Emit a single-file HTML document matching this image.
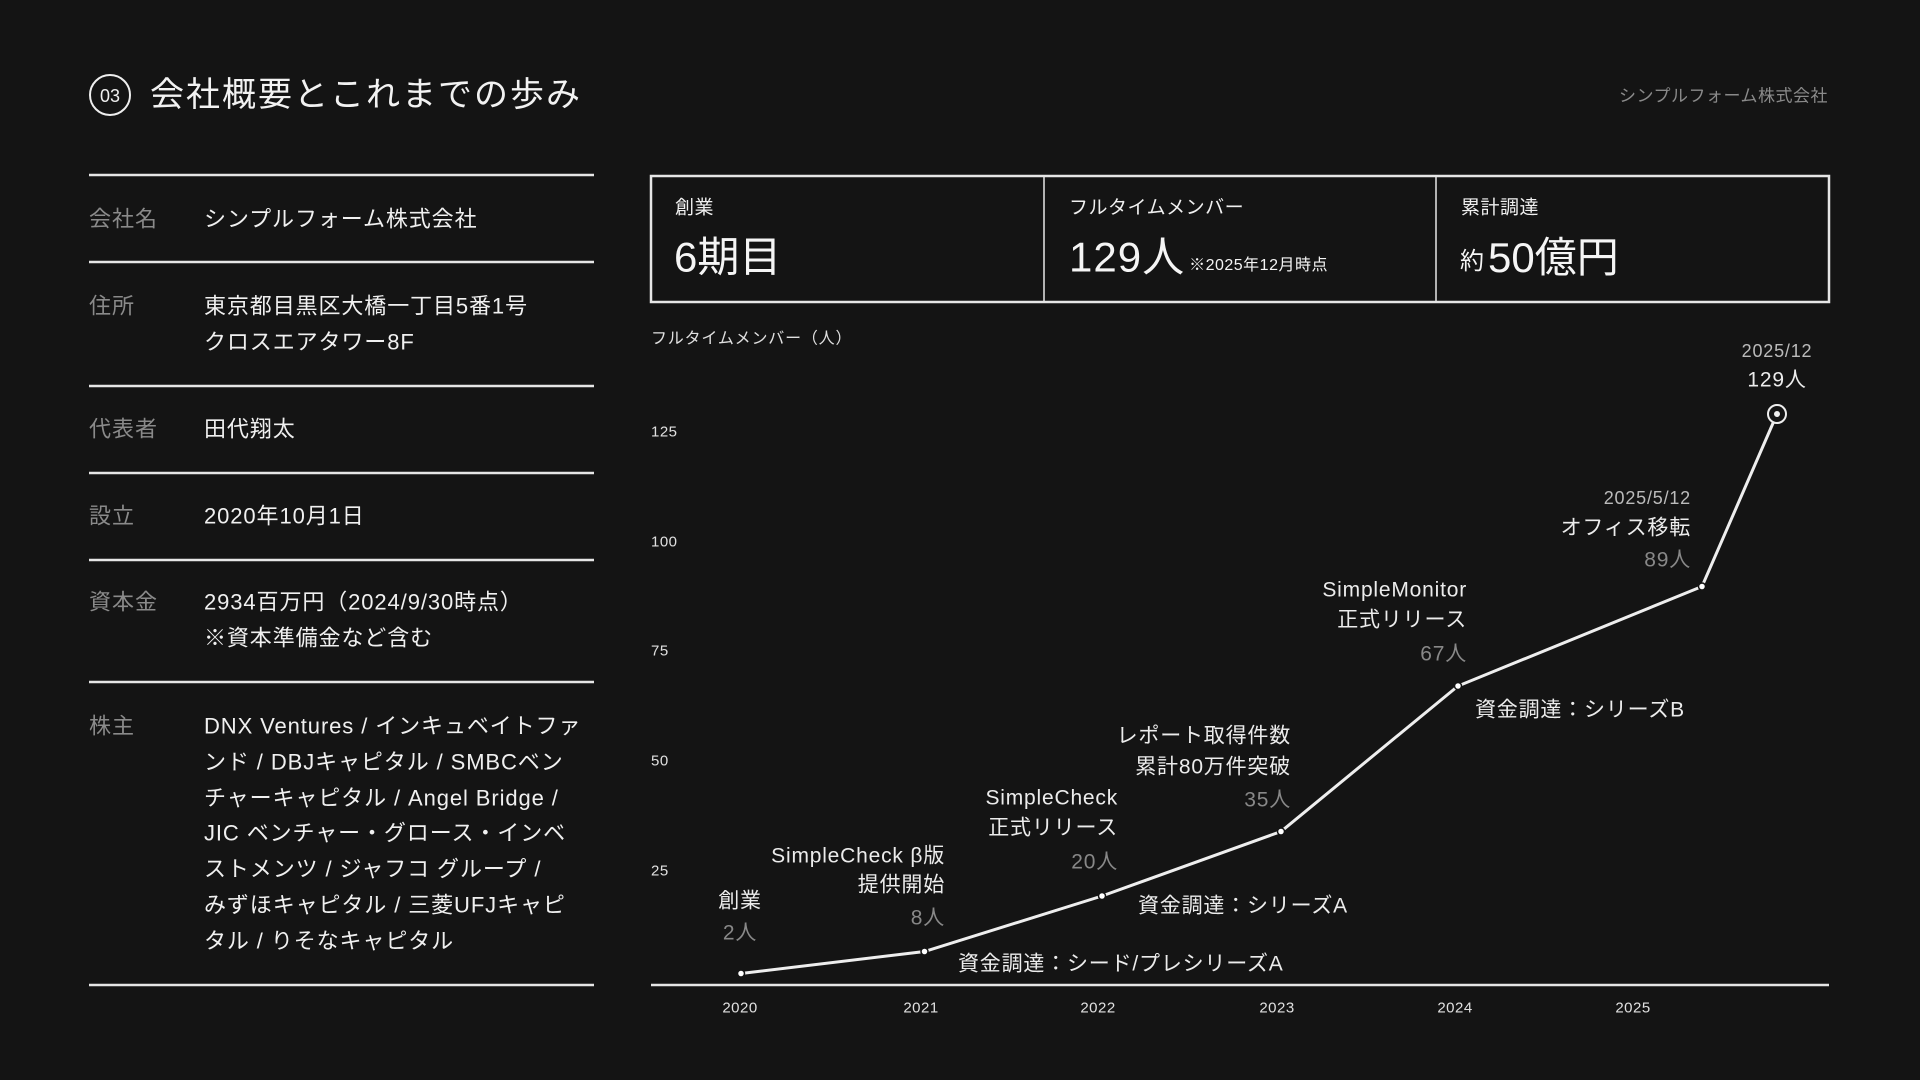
<!DOCTYPE html>
<html><head><meta charset="utf-8"><style>
html,body{margin:0;padding:0;background:#141414;}
body{width:1920px;height:1080px;overflow:hidden;}
svg{display:block;font-family:"Liberation Sans","Noto Sans CJK JP",sans-serif;}
</style></head><body>
<svg width="1920" height="1080" viewBox="0 0 1920 1080" xmlns="http://www.w3.org/2000/svg">
<rect width="1920" height="1080" fill="#141414"/>
<g dominant-baseline="central">
<circle cx="110" cy="95" r="20" fill="none" stroke="#eee" stroke-width="2"/>
<text x="110" y="96" font-size="18" fill="#eee" text-anchor="middle">03</text>
<text x="150" y="95" font-size="34" fill="#f2f2f2" letter-spacing="2">会社概要とこれまでの歩み</text>
<text x="1828" y="96" font-size="17" fill="#8a8a8a" text-anchor="end" letter-spacing="0.5">シンプルフォーム株式会社</text>

<g stroke="#e6e6e6" stroke-width="2.5">
<line x1="89" y1="175" x2="594" y2="175"/>
<line x1="89" y1="262" x2="594" y2="262"/>
<line x1="89" y1="386" x2="594" y2="386"/>
<line x1="89" y1="473" x2="594" y2="473"/>
<line x1="89" y1="560" x2="594" y2="560"/>
<line x1="89" y1="682" x2="594" y2="682"/>
<line x1="89" y1="985" x2="594" y2="985"/>
</g>
<g font-size="22" fill="#8a8a8a" letter-spacing="1">
<text x="89" y="219">会社名</text>
<text x="89" y="306">住所</text>
<text x="89" y="429">代表者</text>
<text x="89" y="516">設立</text>
<text x="89" y="602">資本金</text>
<text x="89" y="726">株主</text>
</g>
<g font-size="22" fill="#f0f0f0" letter-spacing="0.9">
<text x="204" y="219">シンプルフォーム株式会社</text>
<text x="204" y="306">東京都目黒区大橋一丁目5番1号</text>
<text x="204" y="342">クロスエアタワー8F</text>
<text x="204" y="429">田代翔太</text>
<text x="204" y="516">2020年10月1日</text>
<text x="204" y="602">2934百万円（2024/9/30時点）</text>
<text x="204" y="638">※資本準備金など含む</text>
<text x="204" y="726">DNX Ventures / インキュベイトファ</text>
<text x="204" y="762">ンド / DBJキャピタル / SMBCベン</text>
<text x="204" y="798">チャーキャピタル / Angel Bridge /</text>
<text x="204" y="833">JIC ベンチャー・グロース・インベ</text>
<text x="204" y="869">ストメンツ / ジャフコ グループ /</text>
<text x="204" y="905">みずほキャピタル / 三菱UFJキャピ</text>
<text x="204" y="941">タル / りそなキャピタル</text>
</g>

<rect x="651" y="176" width="1178" height="126" fill="none" stroke="#e6e6e6" stroke-width="2.5"/>
<line x1="1044" y1="176" x2="1044" y2="302" stroke="#e6e6e6" stroke-width="1.5"/>
<line x1="1436" y1="176" x2="1436" y2="302" stroke="#e6e6e6" stroke-width="1.5"/>
<g font-size="19" fill="#f0f0f0" letter-spacing="0.5">
<text x="675" y="208">創業</text>
<text x="1069" y="208">フルタイムメンバー</text>
<text x="1461" y="208">累計調達</text>
</g>
<text x="674" y="257" font-size="42" fill="#f5f5f5">6期目</text>
<text x="1069" y="257" font-size="42" fill="#f5f5f5" letter-spacing="1">129人<tspan font-size="16" dy="8" letter-spacing="0.5" dx="4">※2025年12月時点</tspan></text>
<text x="1460" y="257" fill="#f5f5f5"><tspan font-size="24" dy="4">約</tspan><tspan font-size="42" dy="-4" dx="4">50億円</tspan></text>

<text x="651" y="339" font-size="16" fill="#e0e0e0" letter-spacing="0.8">フルタイムメンバー（人）</text>
<g font-size="15" fill="#e0e0e0" letter-spacing="0.5">
<text x="651" y="432">125</text>
<text x="651" y="542">100</text>
<text x="651" y="651">75</text>
<text x="651" y="761">50</text>
<text x="651" y="871">25</text>
</g>
<line x1="651" y1="985" x2="1829" y2="985" stroke="#e6e6e6" stroke-width="2.5"/>
<g font-size="15" fill="#e0e0e0" text-anchor="middle" letter-spacing="0.5">
<text x="740" y="1008">2020</text>
<text x="921" y="1008">2021</text>
<text x="1098" y="1008">2022</text>
<text x="1277" y="1008">2023</text>
<text x="1455" y="1008">2024</text>
<text x="1633" y="1008">2025</text>
</g>
<polyline points="741,973.5 924.5,951.5 1102,896 1281,831.5 1458,686 1702,586.5 1777,414" fill="none" stroke="#eeeeee" stroke-width="3"/>
<g fill="#fff" stroke="#141414" stroke-width="1.5">
<circle cx="741" cy="973.5" r="3.5"/>
<circle cx="924.5" cy="951.5" r="3.5"/>
<circle cx="1102" cy="896" r="3.5"/>
<circle cx="1281" cy="831.5" r="3.5"/>
<circle cx="1458" cy="686" r="3.5"/>
<circle cx="1702" cy="586.5" r="3.5"/>
</g>
<circle cx="1777" cy="414" r="9" fill="#141414" stroke="#eee" stroke-width="2"/>
<circle cx="1777" cy="414" r="3" fill="#eee"/>

<g font-size="21" fill="#ececec" letter-spacing="0.8">
<text x="740" y="901" text-anchor="middle">創業</text>
<text x="740" y="933" text-anchor="middle" fill="#888">2人</text>
<text x="945" y="856" text-anchor="end">SimpleCheck β版</text>
<text x="945" y="885" text-anchor="end">提供開始</text>
<text x="945" y="918" text-anchor="end" fill="#888">8人</text>
<text x="1118" y="798" text-anchor="end">SimpleCheck</text>
<text x="1118" y="828" text-anchor="end">正式リリース</text>
<text x="1118" y="862" text-anchor="end" fill="#888">20人</text>
<text x="1291" y="736" text-anchor="end">レポート取得件数</text>
<text x="1291" y="767" text-anchor="end">累計80万件突破</text>
<text x="1291" y="800" text-anchor="end" fill="#888">35人</text>
<text x="1467" y="590" text-anchor="end">SimpleMonitor</text>
<text x="1467" y="620" text-anchor="end">正式リリース</text>
<text x="1467" y="654" text-anchor="end" fill="#888">67人</text>
<text x="1691" y="498" text-anchor="end" font-size="18" fill="#bbb">2025/5/12</text>
<text x="1691" y="528" text-anchor="end">オフィス移転</text>
<text x="1691" y="560" text-anchor="end" fill="#888">89人</text>
<text x="1777" y="351" text-anchor="middle" font-size="18" fill="#bbb">2025/12</text>
<text x="1777" y="380" text-anchor="middle">129人</text>
<text x="958" y="964">資金調達：シード/プレシリーズA</text>
<text x="1138" y="906">資金調達：シリーズA</text>
<text x="1475" y="710">資金調達：シリーズB</text>
</g>
</g>
</svg>
</body></html>
